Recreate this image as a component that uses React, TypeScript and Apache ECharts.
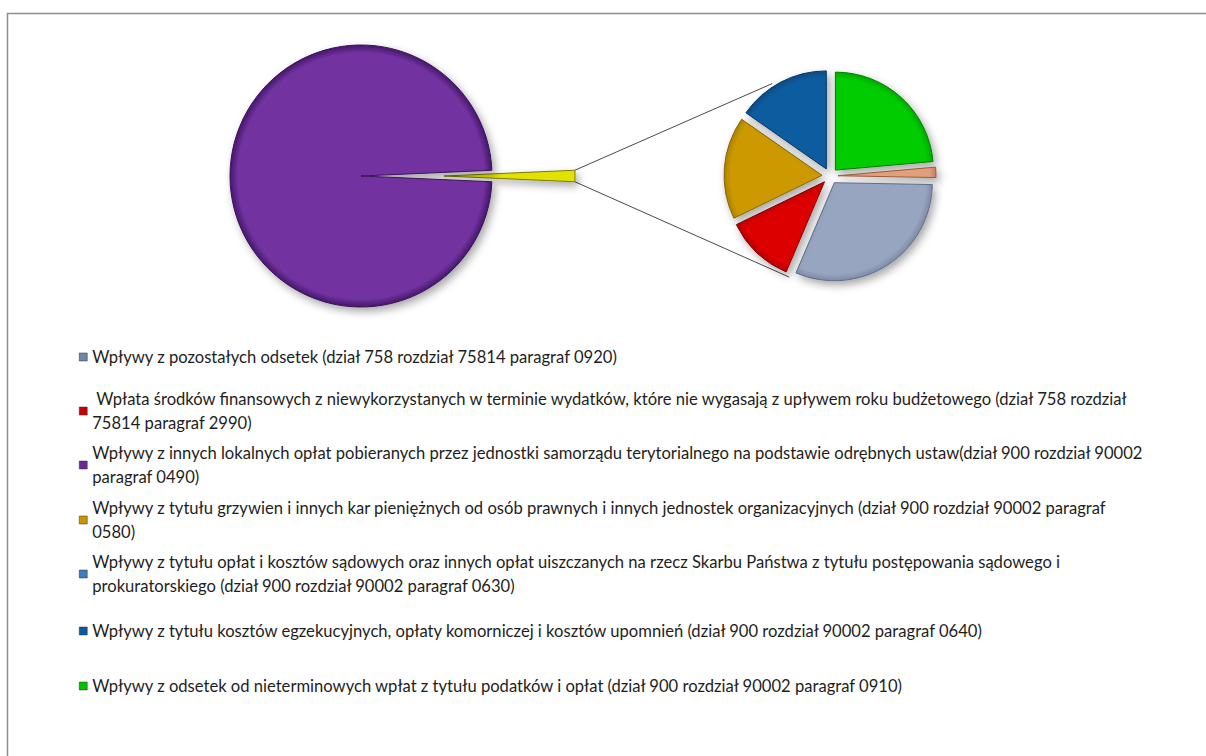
import React, { useEffect, useRef } from "react";
import * as echarts from "echarts";

// Legend text, split into the lines shown in the reference
const legendLines: string[][] = [
  ["Wpływy z pozostałych odsetek (dział 758 rozdział 75814 paragraf 0920)"],
  [
    " Wpłata środków finansowych z niewykorzystanych w terminie wydatków, które nie wygasają z upływem roku budżetowego (dział 758 rozdział",
    "75814 paragraf 2990)",
  ],
  [
    "Wpływy z innych lokalnych opłat pobieranych przez jednostki samorządu terytorialnego na podstawie odrębnych ustaw(dział 900 rozdział 90002",
    "paragraf 0490)",
  ],
  [
    "Wpływy z tytułu grzywien i innych kar pieniężnych od osób prawnych i innych jednostek organizacyjnych (dział 900 rozdział 90002 paragraf",
    "0580)",
  ],
  [
    "Wpływy z tytułu opłat i kosztów sądowych oraz innych opłat uiszczanych na rzecz Skarbu Państwa z tytułu postępowania sądowego i",
    "prokuratorskiego (dział 900 rozdział 90002 paragraf 0630)",
  ],
  ["Wpływy z tytułu kosztów egzekucyjnych, opłaty komorniczej i kosztów upomnień (dział 900 rozdział 90002 paragraf 0640)"],
  ["Wpływy z odsetek od nieterminowych wpłat z tytułu podatków i opłat (dział 900 rozdział 90002 paragraf 0910)"],
];
const categories: string[] = legendLines.map((l) => l.join(" "));

// Values (same order as categories); index 2 is the main (left) pie slice
const values: number[] = [31.1, 11.4, 7040, 16.9, 1.7, 15.3, 23.6];
const mainIndex = 2;
// Order of slices in the secondary pie, clockwise from 12 o'clock
const secondPieOrder: number[] = [6, 4, 0, 1, 3, 5];
const otherName = "Pozostałe";

const sliceColors: string[] = ["#97a5c1", "#dd0000", "#7232a0", "#cc9900", "#e0a07e", "#0b5b9f", "#00cc00"];
const iconColors: string[] = ["#6f86a8", "#cc0000", "#6a2a96", "#c89400", "#3f7cc0", "#0b5b9f", "#00c000"];
const rimColors: string[] = ["#5f6d89", "#860000", "#45186a", "#8a6600", "#9a5a38", "#063660", "#008000"];
const otherColor = "#e2e200";
const otherBorder = "#7a7a00";

// legend first-line vertical centres
const legendFirstLineY: number[] = [357, 411, 465, 520, 574, 631, 686];

export default function App() {
  const ref = useRef<HTMLDivElement>(null);
  useEffect(() => {
    if (!ref.current) return;
    const chart = echarts.init(ref.current, undefined, { renderer: "svg" });

    const otherSum = secondPieOrder.reduce((s, i) => s + values[i], 0);
    const total = otherSum + values[mainIndex];
    const otherAngle = (360 * otherSum) / total;

    const leftC = [361, 176];
    const leftR = 131;
    const leftExplode = 83;
    const rightC = [830, 176];
    const rightR = 98;
    const rightExplode = 8;

    const shadow = {
      shadowBlur: 8,
      shadowOffsetX: 3,
      shadowOffsetY: 4,
      shadowColor: "rgba(0,0,0,0.35)",
    };

    const bevel = (cx: number, cy: number, r: number, base: string, rim: string, inner: number) => ({
      type: "radial",
      x: cx,
      y: cy,
      r,
      global: true,
      colorStops: [
        { offset: 0, color: base },
        { offset: inner, color: base },
        { offset: 1, color: rim },
      ],
    });

    const half = (otherAngle / 2) * (Math.PI / 180);
    const tipX = leftC[0] + leftExplode + leftR * Math.cos(half);
    const tipUpY = leftC[1] - leftR * Math.sin(half);
    const tipDnY = leftC[1] + leftR * Math.sin(half);
    const tgt = (deg: number) => {
      const a = (deg * Math.PI) / 180;
      const r = rightR + rightExplode + 3;
      return [rightC[0] + r * Math.sin(a), rightC[1] - r * Math.cos(a)];
    };
    const upT = tgt(328);
    const dnT = tgt(202);

    const LH = 23.5;

    const option: any = {
      animation: false,
      graphic: [
        {
          type: "rect",
          shape: { x: 7.5, y: 13.5, width: 1260, height: 800 },
          style: { fill: "none", stroke: "#8e8e8e", lineWidth: 1.5 },
          silent: true,
        },
        {
          type: "line",
          shape: { x1: tipX, y1: tipUpY, x2: upT[0], y2: upT[1] },
          style: { stroke: "#4a4a4a", lineWidth: 1 },
          silent: true,
        },
        {
          type: "line",
          shape: { x1: tipX, y1: tipDnY, x2: dnT[0], y2: dnT[1] },
          style: { stroke: "#4a4a4a", lineWidth: 1 },
          silent: true,
        },
      ],
      legend: categories.map((name, i) => {
        const n = legendLines[i].length;
        return {
          data: [{ name, icon: "rect", itemStyle: { color: iconColors[i], borderColor: "#333", borderWidth: 0.5 } }],
          left: 79,
          top: legendFirstLineY[i] - ((2 * n - 1) * LH) / 2,
          padding: 0,
          itemWidth: 8,
          itemHeight: 8,
          selectedMode: false,
          formatter: () => legendLines[i].join("\n"),
          textStyle: {
            fontFamily: "Lato",
            fontSize: 16.6,
            color: "#1e1e1e",
            lineHeight: LH,
            padding: [(n - 1) * LH, 0, 0, 0],
            backgroundColor: "rgba(255,255,255,0)",
          },
        };
      }),
      series: [
        {
          type: "pie",
          center: leftC,
          radius: leftR,
          startAngle: otherAngle / 2,
          clockwise: true,
          selectedMode: "single",
          selectedOffset: leftExplode,
          label: { show: false },
          labelLine: { show: false },
          emphasis: { disabled: true },
          data: [
            {
              name: otherName,
              value: otherSum,
              selected: true,
              itemStyle: { color: otherColor, borderColor: otherBorder, borderWidth: 1, ...shadow },
            },
            {
              name: categories[mainIndex],
              value: values[mainIndex],
              itemStyle: {
                color: bevel(leftC[0], leftC[1], leftR, sliceColors[mainIndex], rimColors[mainIndex], 0.94),
                borderColor: "#3a1258",
                borderWidth: 1,
                ...shadow,
              },
            },
          ],
        },
        {
          type: "pie",
          center: rightC,
          radius: rightR,
          startAngle: 90,
          clockwise: true,
          selectedMode: "multiple",
          selectedOffset: rightExplode,
          label: { show: false },
          labelLine: { show: false },
          emphasis: { disabled: true },
          data: secondPieOrder.map((i) => ({
            name: categories[i],
            value: values[i],
            selected: true,
            itemStyle: {
              color: bevel(rightC[0], rightC[1], rightR + rightExplode, sliceColors[i], rimColors[i], 0.86),
              borderColor: rimColors[i],
              borderWidth: 1,
              ...shadow,
            },
          })),
        },
      ],
    };
    chart.setOption(option);
    return () => chart.dispose();
  }, []);
  return <div ref={ref} style={{ position: "absolute", left: 0, top: 0, width: 1206, height: 756 }} />;
}
